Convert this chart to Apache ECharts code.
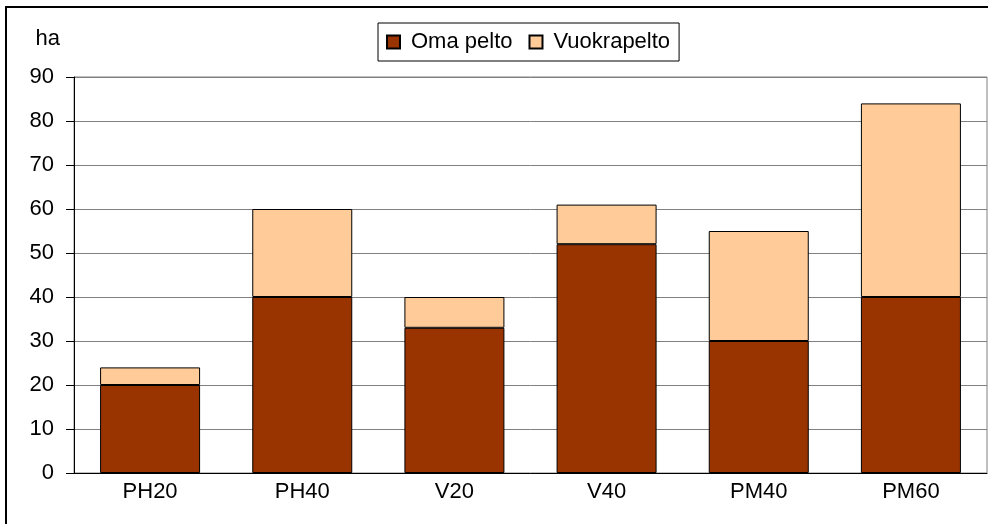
<!DOCTYPE html>
<html>
<head>
<meta charset="utf-8">
<script src="https://cdn.jsdelivr.net/npm/echarts@6/dist/echarts.min.js"></script>
<style>
  html, body { margin: 0; padding: 0; background: #fff; }
  #chart { width: 988px; height: 524px; }
</style>
</head>
<body>
<div id="chart"></div>
<script>
var categories = ['PH20', 'PH40', 'V20', 'V40', 'PM40', 'PM60']
var omaPelto = [20, 40, 33, 52, 30, 40]
var vuokrapelto = [4, 20, 7, 9, 25, 44]
var yTicks = { min: 0, max: 90, interval: 10 }

var font = 'Liberation Sans, Arial, sans-serif'
var fs = 22

var chart = echarts.init(document.getElementById('chart'))

var option = {
  animation: false,
  backgroundColor: '#fff',
  textStyle: { fontFamily: font },
  legend: {
    data: ['Oma pelto', 'Vuokrapelto'],
    left: 378,
    top: 23,
    padding: [8, 9, 8, 8],
    itemGap: 16,
    itemWidth: 13,
    itemHeight: 13,
    borderColor: '#000',
    borderWidth: 1,
    icon: 'rect',
    textStyle: { fontSize: fs, color: '#000', fontFamily: font, padding: [0, 0, 0, 6] }
  },
  grid: {
    left: 74,
    right: 1,
    top: 77,
    bottom: 51,
    show: true,
    borderColor: '#808080',
    borderWidth: 1
  },
  xAxis: {
    type: 'category',
    data: categories,
    axisLine: { lineStyle: { color: '#000', width: 1 } },
    axisTick: { show: false },
    axisLabel: { color: '#000', fontSize: fs, margin: 8, fontFamily: font }
  },
  yAxis: {
    type: 'value',
    min: yTicks.min,
    max: yTicks.max,
    interval: yTicks.interval,
    name: 'ha',
    nameLocation: 'end',
    nameGap: 38,
    nameTextStyle: { color: '#000', fontSize: fs, align: 'right', verticalAlign: 'middle', padding: [0, 14, 0, 0], fontFamily: font },
    axisLine: { show: true, lineStyle: { color: '#000', width: 1 } },
    axisTick: { show: true, length: 8, lineStyle: { color: '#000' } },
    axisLabel: { color: '#000', fontSize: fs, margin: 20, fontFamily: font },
    splitLine: { lineStyle: { color: '#808080', width: 1 } }
  },
  series: [
    {
      name: 'Oma pelto',
      type: 'bar',
      stack: 'ala',
      barWidth: 100,
      data: omaPelto,
      itemStyle: { color: '#993300', borderColor: '#000', borderWidth: 1 }
    },
    {
      name: 'Vuokrapelto',
      type: 'bar',
      stack: 'ala',
      barWidth: 100,
      data: vuokrapelto,
      itemStyle: { color: '#FFCC99', borderColor: '#000', borderWidth: 1 }
    }
  ],
  graphic: [
    {
      type: 'rect',
      silent: true,
      shape: { x: 6, y: 7, width: 1000, height: 600 },
      style: { fill: 'none', stroke: '#000', lineWidth: 2 }
    }
  ]
}

chart.setOption(option)
</script>
</body>
</html>
